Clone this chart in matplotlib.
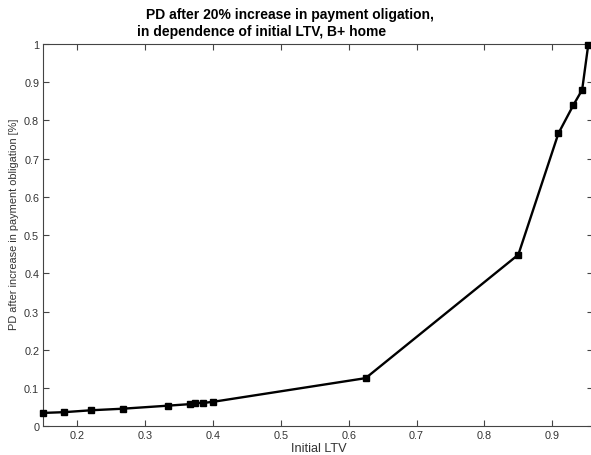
import matplotlib
matplotlib.use("Agg")
import matplotlib.pyplot as plt
from matplotlib.ticker import FuncFormatter

plt.rcParams['font.family'] = ['Liberation Sans', 'DejaVu Sans']

# Data
initial_ltv = [0.150, 0.181, 0.221, 0.267, 0.334, 0.366, 0.374, 0.385, 0.400,
               0.625, 0.850, 0.909, 0.931, 0.944, 0.953]
pd_after = [0.035, 0.037, 0.042, 0.046, 0.054, 0.058, 0.061, 0.061, 0.064,
            0.126, 0.449, 0.766, 0.840, 0.880, 0.998]
x_ticks = [0.2, 0.3, 0.4, 0.5, 0.6, 0.7, 0.8, 0.9]
y_ticks = [0, 0.1, 0.2, 0.3, 0.4, 0.5, 0.6, 0.7, 0.8, 0.9, 1.0]
title_1 = "PD after 20% increase in payment oligation,"
title_2 = "in dependence of initial LTV, B+ home"
x_label = "Initial LTV"
y_label = "PD after increase in payment obligation [%]"

W, H = 591, 456
fig = plt.figure(figsize=(W / 100, H / 100), dpi=100)
left, right, top, bottom = 43.3, 593, 45, 427.3
ax = fig.add_axes([left / W, 1 - bottom / H, (right - left) / W, (bottom - top) / H])

ax.plot(initial_ltv, pd_after, color='black', lw=1.7, marker='s', markersize=5,
        markerfacecolor='black', markeredgecolor='black', clip_on=False, zorder=3)

ax.set_xlim(0.15, 0.96)
ax.set_ylim(0, 1)
ax.set_xticks(x_ticks)
ax.set_yticks(y_ticks)

def fmt(v, pos):
    s = f"{v:.1f}"
    if s.endswith(".0"):
        s = s[:-2]
    return s

ax.xaxis.set_major_formatter(FuncFormatter(fmt))
ax.yaxis.set_major_formatter(FuncFormatter(fmt))
ax.tick_params(direction='in', length=4, width=0.8, top=True, right=True,
               labelsize=7.8, labelcolor='#333333', color='#444444', pad=3)
for s in ax.spines.values():
    s.set_linewidth(0.8)
    s.set_color('#444444')

fig.text(319 / W, 1 - 449.5 / H, x_label, ha='center', va='center',
         fontsize=9.2, color='#333333')
fig.text(14 / W, 1 - 224 / H, y_label, ha='center', va='center',
         rotation=90, fontsize=7.9, color='#333333')

fig.text(290 / W, 1 - 15 / H, title_1, ha='center', va='center',
         fontsize=10, fontweight='bold')
fig.text(262 / W, 1 - 32 / H, title_2, ha='center', va='center',
         fontsize=10, fontweight='bold')

fig.savefig("out.png", dpi=100)
